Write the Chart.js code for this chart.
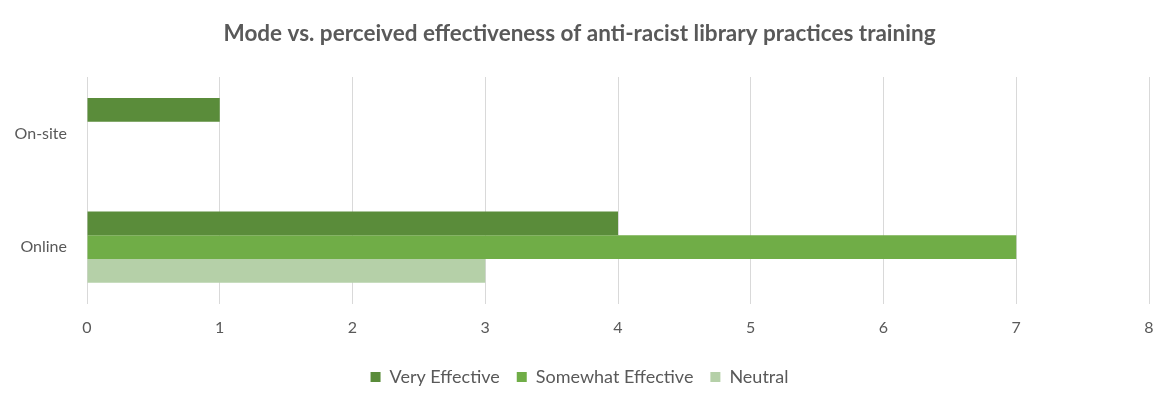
<!DOCTYPE html>
<html>
<head>
<meta charset="utf-8">
<script src="https://cdn.jsdelivr.net/npm/chart.js@4.4.1/dist/chart.umd.min.js"></script>
<style>
  html, body { margin: 0; padding: 0; background: #ffffff; }
  #wrap { width: 1173px; height: 408px; }
</style>
</head>
<body>
<div id="wrap"><canvas id="chart" width="1173" height="408"></canvas></div>
<script>
const categories = ["On-site", "Online"];
const seriesNames = ["Very Effective", "Somewhat Effective", "Neutral"];
const veryEffective = [1, 4];
const somewhatEffective = [0, 7];
const neutral = [0, 3];
const xTicks = [0, 1, 2, 3, 4, 5, 6, 7, 8];

const colors = ["#5a8c3a", "#70ad47", "#b5d0a8"];
const fontFamily = "Lato, 'Open Sans', sans-serif";
const textColor = "#595959";

new Chart(document.getElementById("chart"), {
  type: "bar",
  data: {
    labels: categories,
    datasets: [veryEffective, somewhatEffective, neutral].map((vals, i) => ({
      label: seriesNames[i],
      data: vals,
      backgroundColor: colors[i],
      borderWidth: 0,
      barPercentage: 1.0,
      categoryPercentage: 0.63
    }))
  },
  options: {
    indexAxis: "y",
    responsive: false,
    animation: false,
    layout: { padding: { left: 10, right: 24, top: 8, bottom: 12 } },
    plugins: {
      title: {
        display: true,
        text: "Mode vs. perceived effectiveness of anti-racist library practices training",
        color: textColor,
        font: { family: fontFamily, size: 22.5, weight: "bold" },
        padding: { top: 12, bottom: 30 }
      },
      legend: {
        position: "bottom",
        labels: {
          color: textColor,
          font: { family: fontFamily, size: 18 },
          boxWidth: 10,
          boxHeight: 10,
          padding: 17
        }
      },
      tooltip: { enabled: false }
    },
    scales: {
      x: {
        min: 0,
        max: 8,
        afterBuildTicks: (axis) => { axis.ticks = xTicks.map(v => ({ value: v })); },
        ticks: { color: textColor, font: { family: fontFamily, size: 16 }, padding: 14 },
        grid: { color: "#d9d9d9", lineWidth: 1, drawTicks: false },
        border: { display: false }
      },
      y: {
        afterFit: (axis) => { axis.width = 77; },
        ticks: { color: textColor, font: { family: fontFamily, size: 16 }, padding: 12 },
        grid: { display: false },
        border: { display: false }
      }
    }
  }
});
</script>
</body>
</html>
